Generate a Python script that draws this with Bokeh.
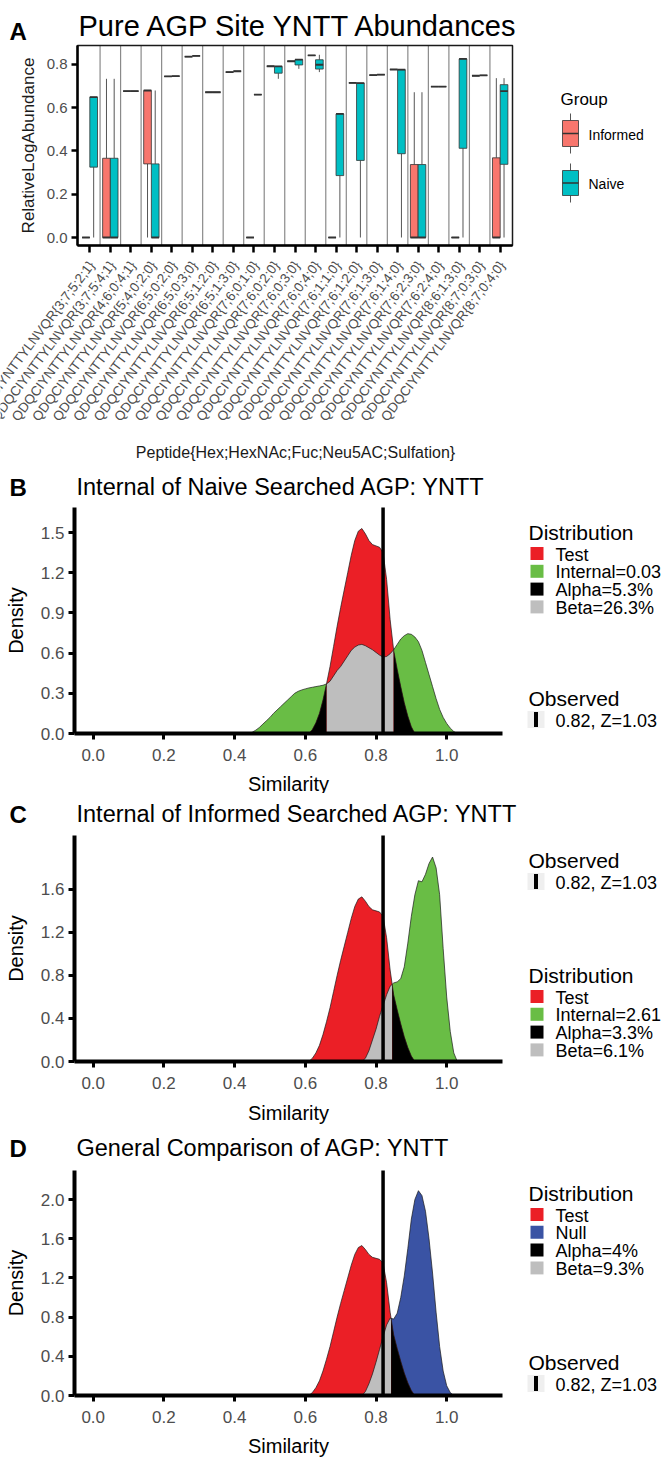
import numpy as np
from bokeh.plotting import figure
from bokeh.models import Range1d, FixedTicker, PrintfTickFormatter, LinearAxis
from bokeh.layouts import column
from bokeh.embed import file_html
from bokeh.resources import INLINE
from bokeh.core.properties import value

FONT = "Liberation Sans"
TICK_GREY = "#4D4D4D"
PAGE_W = 666

# ---------------- Panel A: relative log abundance per glycopeptide ----------------
peptides = [
    "QDQCIYNTTYLNVQR{3;7;5;2;1}", "QDQCIYNTTYLNVQR{3;7;5;4;1}", "QDQCIYNTTYLNVQR{4;6;0;4;1}",
    "QDQCIYNTTYLNVQR{5;4;0;2;0}", "QDQCIYNTTYLNVQR{6;5;0;2;0}", "QDQCIYNTTYLNVQR{6;5;0;3;0}",
    "QDQCIYNTTYLNVQR{6;5;1;2;0}", "QDQCIYNTTYLNVQR{6;5;1;3;0}", "QDQCIYNTTYLNVQR{7;6;0;1;0}",
    "QDQCIYNTTYLNVQR{7;6;0;2;0}", "QDQCIYNTTYLNVQR{7;6;0;3;0}", "QDQCIYNTTYLNVQR{7;6;0;4;0}",
    "QDQCIYNTTYLNVQR{7;6;1;1;0}", "QDQCIYNTTYLNVQR{7;6;1;2;0}", "QDQCIYNTTYLNVQR{7;6;1;3;0}",
    "QDQCIYNTTYLNVQR{7;6;1;4;0}", "QDQCIYNTTYLNVQR{7;6;2;3;0}", "QDQCIYNTTYLNVQR{7;6;2;4;0}",
    "QDQCIYNTTYLNVQR{8;6;1;3;0}", "QDQCIYNTTYLNVQR{8;7;0;3;0}", "QDQCIYNTTYLNVQR{8;7;0;4;0}",
]
groups = ["Informed", "Naive"]
group_fill = ["#F8766D", "#00BFC4"]

# five-number summaries (lower whisker, Q1, median, Q3, upper whisker)
informed_low = [0, 0, 0.676, 0, 0.744, 0.835, 0.671, 0.764, 0, 0.791, 0.814,
                0.841, 0, 0.714, 0.750, 0.776, 0, 0.697, 0, 0.747, 0]
informed_q1 = [0, 0, 0.676, 0.340, 0.744, 0.835, 0.671, 0.764, 0, 0.791, 0.814,
               0.841, 0, 0.714, 0.750, 0.776, 0, 0.697, 0, 0.747, 0]
informed_med = [0, 0, 0.676, 0.679, 0.744, 0.835, 0.671, 0.764, 0, 0.791, 0.814,
                0.841, 0, 0.714, 0.750, 0.776, 0, 0.697, 0, 0.747, 0]
informed_q3 = [0, 0.366, 0.676, 0.679, 0.744, 0.835, 0.671, 0.764, 0, 0.791, 0.814,
               0.841, 0, 0.714, 0.750, 0.776, 0.337, 0.697, 0, 0.747, 0.368]
informed_high = [0, 0.733, 0.676, 0.679, 0.744, 0.835, 0.671, 0.764, 0, 0.791, 0.814,
                 0.841, 0, 0.714, 0.750, 0.776, 0.671, 0.697, 0, 0.747, 0.736]

naive_low = [0, 0, 0.676, 0, 0.745, 0.839, 0.671, 0.768, 0.660, 0.733, 0.779,
             0.764, 0, 0, 0.752, 0, 0, 0.697, 0, 0.749, 0]
naive_q1 = [0.325, 0, 0.676, 0, 0.745, 0.839, 0.671, 0.768, 0.660, 0.759, 0.797,
            0.778, 0.286, 0.356, 0.752, 0.387, 0, 0.697, 0.412, 0.749, 0.338]
naive_med = [0.648, 0, 0.676, 0, 0.745, 0.839, 0.671, 0.768, 0.660, 0.790, 0.822,
             0.798, 0.571, 0.713, 0.752, 0.775, 0, 0.697, 0.825, 0.749, 0.676]
naive_q3 = [0.648, 0.366, 0.676, 0.340, 0.745, 0.839, 0.671, 0.768, 0.660, 0.790, 0.822,
            0.821, 0.571, 0.713, 0.752, 0.775, 0.337, 0.697, 0.825, 0.749, 0.706]
naive_high = [0.648, 0.733, 0.676, 0.679, 0.745, 0.839, 0.671, 0.768, 0.660, 0.790, 0.822,
              0.844, 0.571, 0.713, 0.752, 0.775, 0.671, 0.697, 0.825, 0.749, 0.736]

# ---------------- Panels B-D: similarity densities ----------------
similarity = [0.44, 0.45, 0.46, 0.47, 0.48, 0.49, 0.50, 0.51, 0.52, 0.53, 0.54, 0.55,
              0.56, 0.57, 0.58, 0.59, 0.60, 0.61, 0.62, 0.63, 0.64, 0.65, 0.66, 0.67,
              0.68, 0.69, 0.70, 0.71, 0.72, 0.73, 0.74, 0.75, 0.76, 0.77, 0.78, 0.79,
              0.80, 0.81, 0.82, 0.83, 0.84, 0.85, 0.86, 0.87, 0.88, 0.89, 0.90, 0.91,
              0.92, 0.93, 0.94, 0.95, 0.96, 0.97, 0.98, 0.99, 1.00, 1.01, 1.02, 1.03, 1.04]

test_density = [0, 0, 0, 0, 0, 0, 0, 0, 0, 0, 0, 0,
                0, 0, 0, 0, 0, 0, 0.03, 0.08, 0.15, 0.25, 0.37, 0.50,
                0.65, 0.80, 0.94, 1.07, 1.20, 1.33, 1.44, 1.51, 1.53, 1.49, 1.44, 1.41,
                1.40, 1.39, 1.35, 1.15, 0.85, 0.62, 0.48, 0.35, 0.23, 0.13, 0.05, 0,
                0, 0, 0, 0, 0, 0, 0, 0, 0, 0, 0, 0, 0]

internal_naive_density = [0, 0.01, 0.025, 0.045, 0.07, 0.095, 0.12, 0.15, 0.175, 0.20, 0.225, 0.25,
                          0.275, 0.30, 0.315, 0.325, 0.333, 0.34, 0.345, 0.35, 0.355, 0.36, 0.37, 0.39,
                          0.43, 0.47, 0.50, 0.54, 0.58, 0.62, 0.645, 0.66, 0.665, 0.655, 0.64, 0.625,
                          0.605, 0.585, 0.57, 0.575, 0.595, 0.625, 0.665, 0.705, 0.73, 0.745, 0.74, 0.72,
                          0.685, 0.62, 0.53, 0.44, 0.35, 0.26, 0.18, 0.12, 0.075, 0.04, 0.015, 0, 0]

internal_informed_density = [0, 0, 0, 0, 0, 0, 0, 0, 0, 0, 0, 0,
                             0, 0, 0, 0, 0, 0, 0, 0, 0, 0, 0, 0,
                             0, 0, 0, 0, 0, 0, 0, 0, 0, 0.03, 0.10, 0.20,
                             0.30, 0.42, 0.52, 0.62, 0.70, 0.73, 0.74, 0.77, 0.88, 1.10, 1.35, 1.55,
                             1.68, 1.67, 1.74, 1.84, 1.90, 1.80, 1.55, 1.05, 0.60, 0.28, 0.08, 0, 0]

null_density = [0, 0, 0, 0, 0, 0, 0, 0, 0, 0, 0, 0,
                0, 0, 0, 0, 0, 0, 0, 0, 0, 0, 0, 0,
                0, 0, 0, 0, 0, 0, 0, 0, 0, 0.04, 0.12, 0.22,
                0.34, 0.47, 0.60, 0.72, 0.79, 0.78, 0.84, 1.00, 1.22, 1.50, 1.80, 2.00,
                2.09, 2.04, 1.88, 1.60, 1.25, 0.85, 0.50, 0.25, 0.10, 0.03, 0, 0, 0]

observed_similarity = 0.82
observed_z = 1.03

RED = "#EB1F26"
GREEN = "#69BD45"
BLUE = "#3A53A4"
GREY = "#BEBEBE"
OUTLINE = "#1A1A1A"


def make_panel(top, bottom, x_anchor, y_anchor):
    """Figure whose frame fills the whole canvas; anchors map a page pixel to a data value."""
    px0, xv0, kx = x_anchor
    py0, yv0, ky = y_anchor
    xr = Range1d(xv0 - px0 / kx, xv0 + (PAGE_W - px0) / kx)
    yr = Range1d(yv0 - (bottom - py0) / ky, yv0 + (py0 - top) / ky)
    p = figure(width=PAGE_W, height=bottom - top, x_range=xr, y_range=yr,
               x_axis_type=None, y_axis_type=None, output_backend="svg",
               toolbar_location=None, min_border=0, outline_line_color=None)
    p.extra_x_ranges = {"px": Range1d(0, PAGE_W)}
    p.extra_y_ranges = {"px": Range1d(bottom, top)}
    return p


def px_text(p, x, y, text, size, color="black", align="left", baseline="alphabetic",
            bold=False, angle=0.0):
    p.text(x=[x], y=[y], text=[text], x_range_name="px", y_range_name="px",
           text_font=value(FONT), text_font_size=f"{size}px",
           text_font_style="bold" if bold else "normal",
           text_align=align, text_baseline=baseline, text_color=color, angle=angle)


def style_axis(ax, line_w, tick_w, tick_out, label_size, standoff):
    ax.axis_line_color = "black"
    ax.axis_line_width = line_w
    ax.major_tick_line_color = "black"
    ax.major_tick_line_width = tick_w
    ax.major_tick_out = tick_out
    ax.major_tick_in = 0
    ax.minor_tick_line_color = None
    ax.major_label_text_font = FONT
    ax.major_label_text_font_size = f"{label_size}px"
    ax.major_label_text_color = TICK_GREY
    ax.major_label_standoff = standoff


# ---------- Panel A ----------
A_TOP, A_BOTTOM = 0, 461
n_cat = len(peptides)
A_KX = 435 / (n_cat + 0.2)
A_YLO, A_YHI = -0.037, 0.887
pa = make_panel(A_TOP, A_BOTTOM, (77, 0.4, A_KX), (237, 0.0, 216.5))

cats = np.arange(1, n_cat + 1)
seps = cats[:-1] + 0.5
pa.segment(x0=seps, y0=A_YLO, x1=seps, y1=A_YHI, line_color="#8A8A8A", line_width=1.2)

DODGE = 0.1875
BOX_W = 0.375
summaries = [
    (-DODGE, informed_low, informed_q1, informed_med, informed_q3, informed_high, group_fill[0]),
    (DODGE, naive_low, naive_q1, naive_med, naive_q3, naive_high, group_fill[1]),
]
for off, lo, q1, med, q3, hi, fill in summaries:
    xc = cats + off
    pa.segment(x0=xc, y0=q3, x1=xc, y1=hi, line_color="#555555", line_width=1)
    pa.segment(x0=xc, y0=lo, x1=xc, y1=q1, line_color="#555555", line_width=1)
    pa.vbar(x=xc, width=BOX_W, bottom=q1, top=q3, fill_color=fill, line_color="#333333", line_width=0.8)
    pa.segment(x0=xc - BOX_W / 2, y0=med, x1=xc + BOX_W / 2, y1=med, line_color="#333333", line_width=1.8)

# panel border (top / right)
pa.quad(left=[0.4], right=[n_cat + 0.6], bottom=[A_YLO], top=[A_YHI], fill_color=None,
        line_color="#1A1A1A", line_width=1.5)

xa = LinearAxis(fixed_location=A_YLO, bounds=(0.4, n_cat + 0.6),
                ticker=FixedTicker(ticks=list(cats)))
style_axis(xa, 2.5, 2.5, 7, 13, 6)
xa.major_label_overrides = {int(c): "" for c in cats}
pa.add_layout(xa, "below")
ya = LinearAxis(fixed_location=0.4, bounds=(A_YLO, A_YHI),
                ticker=FixedTicker(ticks=[0, 0.2, 0.4, 0.6, 0.8]),
                formatter=PrintfTickFormatter(format="%.1f"))
style_axis(ya, 2.5, 2.5, 6, 15, 4)
pa.add_layout(ya, "left")

# rotated peptide labels, ending at their ticks
pa.text(x=cats + 0.1, y=[262] * n_cat, text=peptides, y_range_name="px",
        text_font=value(FONT), text_font_size="13.5px", text_color=TICK_GREY,
        text_align="right", text_baseline="middle", angle=np.deg2rad(53))

px_text(pa, 9, 31, "A", 24, bold=True)
px_text(pa, 78, 25, "Pure AGP Site YNTT Abundances", 29)
px_text(pa, 28, 145, "RelativeLogAbundance", 17, color="#1A1A1A", align="center",
        baseline="middle", angle=np.pi / 2)
px_text(pa, 295, 452, "Peptide{Hex;HexNAc;Fuc;Neu5AC;Sulfation}", 16, color="#1A1A1A",
        align="center", baseline="middle")

# group legend
px_text(pa, 560, 99, "Group", 17)
for (btop, bbot, bmed), name, fill in zip([(120, 146, 133), (170, 195, 182.5)], groups, group_fill):
    pa.segment(x0=[570, 570], y0=[btop - 7, bbot], x1=[570, 570], y1=[btop, bbot + 7],
               x_range_name="px", y_range_name="px", line_color="#555555", line_width=1)
    pa.quad(left=[562], right=[578], top=[btop], bottom=[bbot], x_range_name="px", y_range_name="px",
            fill_color=fill, line_color="#333333", line_width=0.8)
    pa.segment(x0=[562], y0=[bmed], x1=[578], y1=[bmed], x_range_name="px", y_range_name="px",
               line_color="#333333", line_width=1.5)
    px_text(pa, 588, bmed + 1, name, 14, baseline="middle")


# ---------- Panels B-D ----------
sim = np.array(similarity)


def support(d):
    d = np.asarray(d, dtype=float)
    nz = np.nonzero(d)[0]
    i0, i1 = max(nz[0] - 1, 0), min(nz[-1] + 1, len(d) - 1)
    return sim[i0:i1 + 1], d[i0:i1 + 1]


def overlap_polys(test, ref):
    """Split the overlap of two densities into beta (test above ref) and alpha (test below ref) parts."""
    test = np.asarray(test, dtype=float)
    ref = np.asarray(ref, dtype=float)
    X, T, R = [sim[0]], [test[0]], [ref[0]]
    for i in range(1, len(sim)):
        d0, d1 = test[i - 1] - ref[i - 1], test[i] - ref[i]
        if d0 * d1 < 0:
            t = d0 / (d0 - d1)
            X.append(sim[i - 1] + t * (sim[i] - sim[i - 1]))
            v = test[i - 1] + t * (test[i] - test[i - 1])
            T.append(v)
            R.append(v)
        X.append(sim[i]); T.append(test[i]); R.append(ref[i])
    X, T, R = np.array(X), np.array(T), np.array(R)

    def regions(mask, top):
        polys, i, n = [], 0, len(X)
        while i < n:
            if mask[i]:
                j = i
                while j + 1 < n and mask[j + 1]:
                    j += 1
                if top[i:j + 1].max() > 0:
                    polys.append((list(X[i:j + 1]) + [X[j], X[i]], list(top[i:j + 1]) + [0.0, 0.0]))
                i = j + 1
            else:
                i += 1
        return polys

    return regions(T >= R - 1e-12, R), regions(T <= R + 1e-12, T)


panels = [
    dict(letter="B", title="Internal of Naive Searched AGP: YNTT", page=(461, 793), frame=(507, 733),
         yticks=[0, 0.3, 0.6, 0.9, 1.2, 1.5], ref=internal_naive_density, ref_color=GREEN,
         labels=["Test", "Internal=0.03", "Alpha=5.3%", "Beta=26.3%"],
         title_base=486, xlab_y=783, dist_base=532, obs_base=698),
    dict(letter="C", title="Internal of Informed Searched AGP: YNTT", page=(793, 1127), frame=(835, 1061),
         yticks=[0, 0.4, 0.8, 1.2, 1.6], ref=internal_informed_density, ref_color=GREEN,
         labels=["Test", "Internal=2.61", "Alpha=3.3%", "Beta=6.1%"],
         title_base=813, xlab_y=1112, dist_base=975, obs_base=860),
    dict(letter="D", title="General Comparison of AGP: YNTT", page=(1127, 1461), frame=(1170, 1395),
         yticks=[0, 0.4, 0.8, 1.2, 1.6, 2.0], ref=null_density, ref_color=BLUE,
         labels=["Test", "Null", "Alpha=4%", "Beta=9.3%"],
         title_base=1147, xlab_y=1445, dist_base=1193, obs_base=1362),
]
density_scale = {"B": 134.0, "C": 107.6, "D": 98.0}
X_KX = 353.5
X_LO, X_HI = -0.053, 1.158

figs = [pa]
for spec in panels:
    top, bottom = spec["page"]
    f_top, f_bot = spec["frame"]
    ky = density_scale[spec["letter"]]
    ymax = (f_bot - f_top) / ky
    p = make_panel(top, bottom, (92.7, 0.0, X_KX), (f_bot, 0.0, ky))

    xr, yr = support(spec["ref"])
    xt, yt = support(test_density)
    p.varea(x=xr, y1=0, y2=yr, fill_color=spec["ref_color"])
    p.varea(x=xt, y1=0, y2=yt, fill_color=RED)
    beta, alpha = overlap_polys(test_density, spec["ref"])
    if beta:
        p.patches(xs=[b[0] for b in beta], ys=[b[1] for b in beta], fill_color=GREY, line_color=None)
    if alpha:
        p.patches(xs=[a[0] for a in alpha], ys=[a[1] for a in alpha], fill_color="black", line_color=None)
    p.line(xr, yr, line_color=OUTLINE, line_width=0.7)
    p.line(xt, yt, line_color=OUTLINE, line_width=0.7)
    p.segment(x0=[observed_similarity], y0=[0], x1=[observed_similarity], y1=[ymax],
              line_color="black", line_width=3.5)

    xax = LinearAxis(fixed_location=0.0, bounds=(X_LO, X_HI),
                     ticker=FixedTicker(ticks=[0, 0.2, 0.4, 0.6, 0.8, 1.0]),
                     formatter=PrintfTickFormatter(format="%.1f"))
    style_axis(xax, 4, 3, 6, 17, 9)
    p.add_layout(xax, "below")
    yax = LinearAxis(fixed_location=X_LO, bounds=(0.0, ymax),
                     ticker=FixedTicker(ticks=spec["yticks"]),
                     formatter=PrintfTickFormatter(format="%.1f"))
    style_axis(yax, 4, 3, 6, 17, 4)
    p.add_layout(yax, "left")

    px_text(p, 9, spec["title_base"] + 1, spec["letter"], 24, bold=True)
    px_text(p, 76, spec["title_base"], spec["title"], 23.5)
    px_text(p, 15, (f_top + f_bot) / 2, "Density", 20, align="center", baseline="middle",
            angle=np.pi / 2)
    px_text(p, 288, spec["xlab_y"], "Similarity", 20, align="center", baseline="middle")

    # distribution key
    px_text(p, 528, spec["dist_base"], "Distribution", 21)
    key_colors = [RED, spec["ref_color"], "black", GREY]
    for k, (lab, col) in enumerate(zip(spec["labels"], key_colors)):
        cy = spec["dist_base"] + 21 + 17.8 * k
        p.quad(left=[530], right=[543], top=[cy - 6.5], bottom=[cy + 6.5],
               x_range_name="px", y_range_name="px", fill_color=col, line_color=None)
        px_text(p, 555, cy + 1, lab, 18, baseline="middle")
    # observed key
    px_text(p, 528, spec["obs_base"], "Observed", 21)
    oy = spec["obs_base"] + 21
    p.quad(left=[527], right=[544], top=[oy - 8.5], bottom=[oy + 8.5],
           x_range_name="px", y_range_name="px", fill_color="#EFEFEF", line_color=None)
    p.quad(left=[533.5], right=[537.5], top=[oy - 7.5], bottom=[oy + 7.5],
           x_range_name="px", y_range_name="px", fill_color="black", line_color=None)
    px_text(p, 555, oy + 1, f"{observed_similarity:.2f}, Z={observed_z:.2f}", 18, baseline="middle")

    figs.append(p)

layout = column(*figs)
open("out.html", "w").write(file_html(layout, INLINE))
